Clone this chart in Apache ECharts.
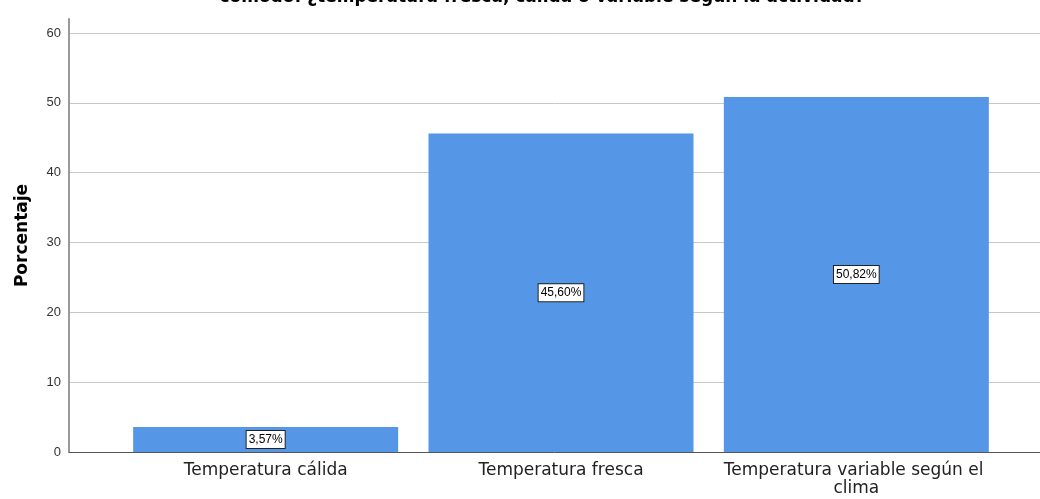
<!DOCTYPE html>
<html>
<head>
<meta charset="utf-8">
<script src="https://cdn.jsdelivr.net/npm/echarts@6/dist/echarts.min.js"></script>
<style>
  html, body { margin: 0; padding: 0; background: #fff; }
  #chart { width: 1040px; height: 499px; }
</style>
</head>
<body>
<div id="chart"></div>
<script>
  // datos del gráfico
  var categorias = ['Temperatura cálida', 'Temperatura fresca', 'Temperatura variable según el clima'];
  var porcentajes = [3.57, 45.60, 50.82];
  var ticksY = [0, 10, 20, 30, 40, 50, 60];
  var titulo = 'cómodo: ¿temperatura fresca, cálida o variable según la actividad?';

  var chart = echarts.init(document.getElementById('chart'));

  const option = {
    animation: false,
    title: {
      text: titulo,
      left: 537,
      top: -16,
      textAlign: 'center',
      textStyle: { fontFamily: 'DejaVu Sans', fontSize: 17, fontWeight: 'bold', color: '#000' }
    },
    grid: [
      // eje y y lineas de fondo
      { left: 69, right: 0, top: 19, bottom: 47 },
      // barras
      { left: 118, right: 36, top: 19, bottom: 47 }
    ],
    xAxis: [
      {
        gridIndex: 0,
        type: 'category',
        data: [''],
        axisLine: { lineStyle: { color: '#555', width: 1 } },
        axisTick: { show: false },
        axisLabel: { show: false }
      },
      {
        gridIndex: 1,
        type: 'category',
        data: categorias,
        axisLine: { show: false },
        axisTick: { show: false },
        axisLabel: {
          interval: 0,
          hideOverlap: false,
          margin: 10,
          width: 285,
          overflow: 'break',
          lineHeight: 18,
          fontFamily: 'DejaVu Sans',
          fontSize: 17,
          color: '#222'
        }
      }
    ],
    yAxis: [
      {
        gridIndex: 0,
        type: 'value',
        min: 0,
        max: 62,
        interval: 10,
        name: 'Porcentaje',
        nameLocation: 'middle',
        nameGap: 38,
        nameTextStyle: { fontFamily: 'DejaVu Sans', fontSize: 17, fontWeight: 'bold', color: '#000' },
        axisLine: { show: true, lineStyle: { color: '#999', width: 2 } },
        axisTick: { show: false },
        axisLabel: {
          margin: 8,
          showMaxLabel: false,
          fontFamily: 'Arial, Liberation Sans',
          fontSize: 13,
          color: '#333',
          formatter: function (v) { return ticksY.indexOf(v) >= 0 ? String(v) : ''; }
        },
        splitLine: { show: true, showMinLine: false, showMaxLine: false, lineStyle: { color: '#c8c8c8', width: 1 } }
      },
      {
        gridIndex: 1,
        type: 'value',
        min: 0,
        max: 62,
        show: false
      }
    ],
    series: [
      {
        type: 'bar',
        xAxisIndex: 1,
        yAxisIndex: 1,
        data: porcentajes,
        barWidth: 265,
        itemStyle: { color: '#5596e6' },
        label: {
          show: true,
          position: 'inside',
          formatter: function (p) { return p.value.toFixed(2).replace('.', ',') + '%'; },
          fontFamily: 'Arial, Liberation Sans',
          fontSize: 12,
          color: '#000',
          backgroundColor: '#fff',
          borderColor: '#222',
          borderWidth: 1,
          padding: [3, 2, 2, 2]
        }
      }
    ]
  };
  chart.setOption(option);
</script>
</body>
</html>
